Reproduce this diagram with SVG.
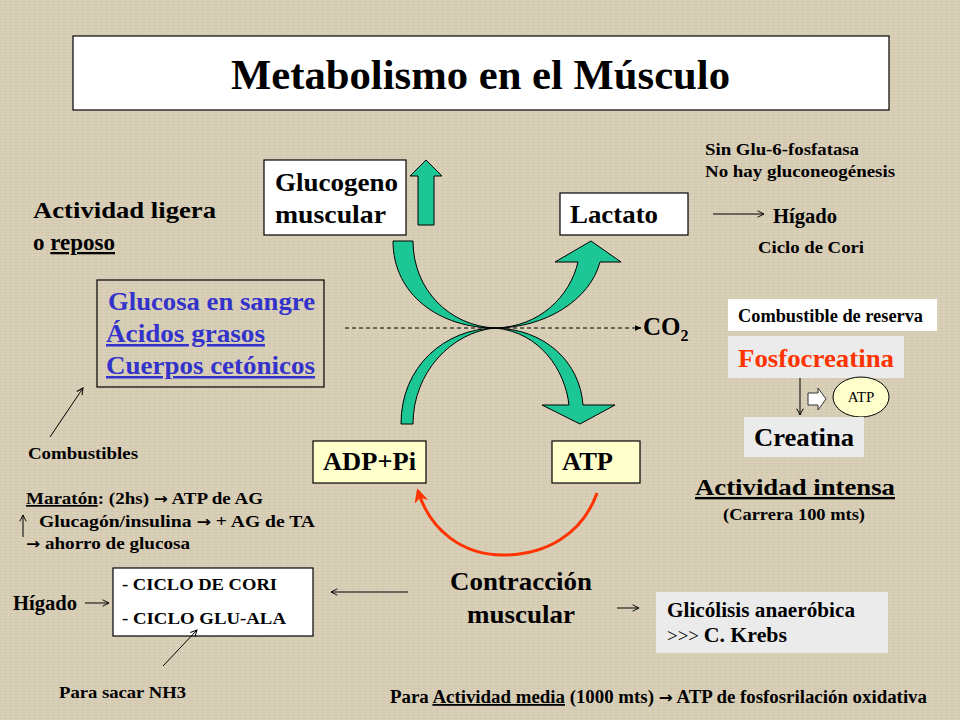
<svg xmlns="http://www.w3.org/2000/svg" width="960" height="720" viewBox="0 0 960 720">
<defs>
<style>
.t{font-family:"Liberation Serif","Times New Roman",serif;font-weight:bold;fill:#000}
.n{font-family:"Liberation Serif","Times New Roman",serif;fill:#000}
.ar{font-family:"DejaVu Sans",sans-serif;font-weight:bold}
.blue{fill:#3333cc}
.box{fill:#fff;stroke:#000;stroke-width:1.2}
.ybox{fill:#ffffcc;stroke:#000;stroke-width:1.2}
.gbox{fill:#ebebeb}
.green{fill:#1dc795;stroke:#000;stroke-width:1}
.thin{fill:none;stroke:#000;stroke-width:1}
</style>
<marker id="open" viewBox="0 0 10 10" refX="9" refY="5" markerWidth="8" markerHeight="8" orient="auto" markerUnits="userSpaceOnUse">
<path d="M1,1 L9,5 L1,9" fill="none" stroke="#000" stroke-width="1.2"/>
</marker>
<marker id="solid" viewBox="0 0 10 10" refX="9" refY="5" markerWidth="7" markerHeight="7" orient="auto" markerUnits="userSpaceOnUse">
<path d="M0,1 L10,5 L0,9 Z" fill="#000"/>
</marker>
<marker id="red" viewBox="0 0 10 10" refX="8" refY="5" markerWidth="14" markerHeight="14" orient="auto" markerUnits="userSpaceOnUse">
<path d="M0,0 L10,5 L0,10 L3,5 Z" fill="#ff3300"/>
</marker>
<pattern id="linen" width="6" height="6" patternUnits="userSpaceOnUse">
<rect width="6" height="6" fill="#d8ceb6"/>
<path d="M0,1.5 H6 M0,4.5 H6" stroke="#c9bea4" stroke-width="0.6" opacity="0.6"/>
<path d="M2,0 V6" stroke="#e4dcc8" stroke-width="0.6" opacity="0.6"/>
</pattern>
</defs>

<rect width="960" height="720" fill="url(#linen)"/>

<g id="title">
<rect x="73" y="36" width="816" height="74" class="box"/>
<text x="231" y="89" class="t" font-size="42" textLength="499" lengthAdjust="spacingAndGlyphs">Metabolismo en el Músculo</text>
</g>

<g id="glucogeno">
<rect x="264" y="160" width="142" height="75" class="box"/>
<text class="t" font-size="26"><tspan x="275" y="191" textLength="123" lengthAdjust="spacingAndGlyphs">Glucogeno</tspan><tspan x="275" y="223" textLength="111" lengthAdjust="spacingAndGlyphs">muscular</tspan></text>
</g>

<g id="lactato">
<rect x="560" y="193" width="128" height="42" class="box"/>
<text x="570" y="223" class="t" font-size="26" textLength="88" lengthAdjust="spacingAndGlyphs">Lactato</text>
</g>

<g id="actividad-ligera">
<text x="33" y="218" class="t" font-size="23" textLength="183" lengthAdjust="spacingAndGlyphs">Actividad ligera</text>
<text x="33" y="250" class="t" font-size="23">o <tspan text-decoration="underline">reposo</tspan></text>
</g>

<g id="combustibles-box">
<rect x="97" y="280" width="227" height="107" fill="none" stroke="#000" stroke-width="1.2"/>
<text class="t blue" font-size="25"><tspan x="108" y="310" textLength="207" lengthAdjust="spacingAndGlyphs">Glucosa en sangre</tspan><tspan x="106" y="342" textLength="159" lengthAdjust="spacingAndGlyphs" text-decoration="underline">Ácidos grasos</tspan><tspan x="106" y="374" textLength="209" lengthAdjust="spacingAndGlyphs" text-decoration="underline">Cuerpos cetónicos</tspan></text>
</g>

<g id="co2">
<text x="643" y="335" class="t" font-size="25">CO<tspan font-size="16" dy="6">2</tspan></text>
</g>

<g id="adp">
<rect x="313" y="441" width="113" height="42" class="ybox"/>
<text x="323" y="470" class="t" font-size="26" textLength="93" lengthAdjust="spacingAndGlyphs">ADP+Pi</text>
</g>

<g id="atp">
<rect x="552" y="441" width="88" height="42" class="ybox"/>
<text x="562" y="470" class="t" font-size="26" textLength="51" lengthAdjust="spacingAndGlyphs">ATP</text>
</g>

<g id="sin-glu">
<text class="t" font-size="17"><tspan x="705" y="155" textLength="154" lengthAdjust="spacingAndGlyphs">Sin Glu-6-fosfatasa</tspan><tspan x="705" y="177" textLength="190" lengthAdjust="spacingAndGlyphs">No hay gluconeogénesis</tspan></text>
</g>

<g id="higado-right">
<text x="773" y="223" class="t" font-size="20" textLength="64" lengthAdjust="spacingAndGlyphs">Hígado</text>
<text x="758" y="253" class="t" font-size="17" textLength="106" lengthAdjust="spacingAndGlyphs">Ciclo de Cori</text>
</g>

<g id="reserva">
<rect x="728" y="299" width="209" height="32" fill="#fff"/>
<text x="738" y="322" class="t" font-size="18" textLength="185" lengthAdjust="spacingAndGlyphs">Combustible de reserva</text>
</g>

<g id="fosfocreatina">
<rect x="728" y="336" width="176" height="42" class="gbox"/>
<text x="738" y="367" class="t" font-size="25" style="fill:#ff3300" textLength="156" lengthAdjust="spacingAndGlyphs">Fosfocreatina</text>
</g>

<g id="atp-ellipse">
<ellipse cx="861" cy="397" rx="28" ry="20" fill="#ffffcc" stroke="#000" stroke-width="1"/>
<text x="861" y="402" class="n" font-size="15" text-anchor="middle">ATP</text>
</g>

<g id="creatina">
<rect x="744" y="417" width="120" height="40" class="gbox"/>
<text x="754" y="446" class="t" font-size="26" textLength="100" lengthAdjust="spacingAndGlyphs">Creatina</text>
</g>

<g id="actividad-intensa">
<text x="695" y="495" class="t" font-size="23" textLength="200" lengthAdjust="spacingAndGlyphs" text-decoration="underline">Actividad intensa</text>
<text x="723" y="520" class="t" font-size="17" textLength="142" lengthAdjust="spacingAndGlyphs">(Carrera 100 mts)</text>
</g>

<g id="combustibles-label">
<text x="28" y="459" class="t" font-size="17" textLength="110" lengthAdjust="spacingAndGlyphs">Combustibles</text>
</g>

<g id="maraton">
<text x="26" y="504" class="t" font-size="17" textLength="237" lengthAdjust="spacingAndGlyphs"><tspan text-decoration="underline">Maratón</tspan>: (2hs) <tspan class="ar" font-size="15">→</tspan> ATP de AG</text>
<text x="39" y="527" class="t" font-size="17" textLength="276" lengthAdjust="spacingAndGlyphs">Glucagón/insulina  <tspan class="ar" font-size="15">→</tspan> + AG de TA</text>
<text x="26" y="549" class="t" font-size="17" textLength="164" lengthAdjust="spacingAndGlyphs"><tspan class="ar" font-size="15">→</tspan> ahorro de glucosa</text>
</g>

<g id="higado-left">
<text x="13" y="610" class="t" font-size="20" textLength="64" lengthAdjust="spacingAndGlyphs">Hígado</text>
</g>

<g id="ciclos">
<rect x="113" y="568" width="200" height="68" class="box"/>
<text class="t" font-size="17"><tspan x="122" y="590" textLength="155" lengthAdjust="spacingAndGlyphs">- CICLO DE CORI</tspan><tspan x="122" y="624" textLength="164" lengthAdjust="spacingAndGlyphs">- CICLO GLU-ALA</tspan></text>
</g>

<g id="nh3">
<text x="59" y="698" class="t" font-size="17" textLength="127" lengthAdjust="spacingAndGlyphs">Para sacar NH3</text>
</g>

<g id="contraccion">
<text class="t" font-size="25" text-anchor="middle"><tspan x="521" y="590" textLength="142" lengthAdjust="spacingAndGlyphs">Contracción</tspan><tspan x="521" y="623" textLength="108" lengthAdjust="spacingAndGlyphs">muscular</tspan></text>
</g>

<g id="glicolisis">
<rect x="656" y="592" width="232" height="61" class="gbox"/>
<text x="667" y="617" class="t" font-size="20" textLength="188" lengthAdjust="spacingAndGlyphs">Glicólisis anaeróbica</text>
<text x="667" y="642" class="n" font-size="19" textLength="120" lengthAdjust="spacingAndGlyphs">&gt;&gt;&gt; <tspan class="t" font-size="22">C. Krebs</tspan></text>
</g>

<g id="actividad-media">
<text x="390" y="703" class="t" font-size="18" textLength="537" lengthAdjust="spacingAndGlyphs">Para <tspan text-decoration="underline">Actividad media</tspan> (1000 mts) <tspan class="ar" font-size="16">→</tspan> ATP de fosfosrilación oxidativa</text>
</g>

<g id="connectors">
<path class="green" d="M418,225 L418,176 L410,176 L426,160 L442,176 L434,176 L434,225 Z"/>
<path class="green" d="M393,241 C393,295 440,328 495,328 C545,328 590,300 600,262 L621,262 L591,241 L555,262 L578,262 C570,296 540,327 495,328 C450,326 413,290 413,241 Z"/>
<path class="green" d="M401,424 C401,366 445,329 495,328 C545,329 580,362 583,405 L615,405 L580,424 L542,405 L569,405 C565,370 540,332 495,328 C452,332 413,372 413,424 Z"/>
<line x1="345" y1="328" x2="641" y2="328" stroke="#000" stroke-width="1" stroke-dasharray="4,3" marker-end="url(#solid)"/>
<path d="M597,493 C582,535 545,555 503,555 C462,555 430,530 418,491" fill="none" stroke="#ff3300" stroke-width="3" marker-end="url(#red)"/>
<line x1="713" y1="214" x2="764" y2="214" class="thin" marker-end="url(#open)"/>
<line x1="800" y1="378" x2="800" y2="415" class="thin" marker-end="url(#open)"/>
<path d="M808,393 L818,393 L818,388 L826,399 L818,410 L818,405 L808,405 Z" fill="#fff" stroke="#333" stroke-width="1"/>
<line x1="50" y1="437" x2="83" y2="388" class="thin" marker-end="url(#open)"/>
<line x1="23" y1="537" x2="23" y2="515" class="thin" marker-end="url(#open)"/>
<line x1="85" y1="603" x2="109" y2="603" class="thin" marker-end="url(#open)"/>
<line x1="163" y1="666" x2="197" y2="630" class="thin" marker-end="url(#open)"/>
<line x1="408" y1="592" x2="331" y2="592" class="thin" marker-end="url(#open)"/>
<line x1="617" y1="608" x2="639" y2="608" class="thin" marker-end="url(#open)"/>
</g>
</svg>
